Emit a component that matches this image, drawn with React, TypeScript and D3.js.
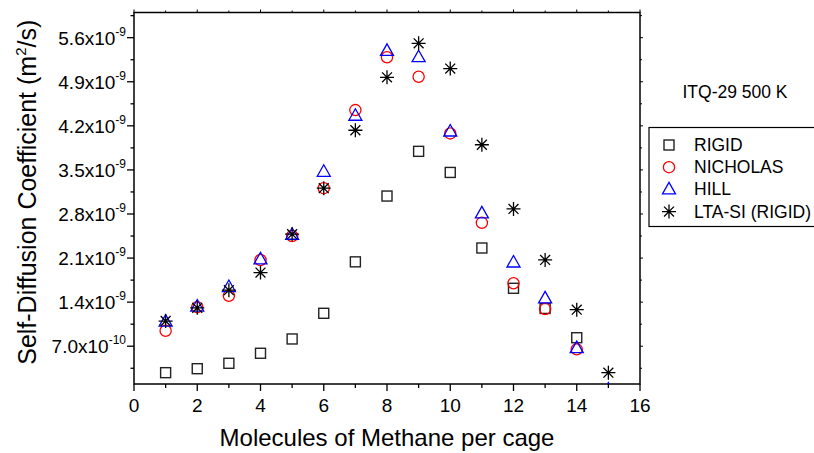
import React from "react";
import * as d3 from "d3";

const molecules = [1, 2, 3, 4, 5, 6, 7, 8, 9, 10, 11, 12, 13, 14, 15];
const rigid = [0.28e-9, 0.343e-9, 0.429e-9, 0.588e-9, 0.815e-9, 1.223e-9, 2.04e-9, 3.085e-9, 3.795e-9, 3.46e-9, 2.26e-9, 1.62e-9, 1.3e-9, 0.835e-9];
const nicholas = [0.946e-9, 1.32e-9, 1.5e-9, 2.07e-9, 2.45e-9, 3.21e-9, 4.45e-9, 5.29e-9, 4.98e-9, 4.08e-9, 2.66e-9, 1.7e-9, 1.29e-9, 0.65e-9];
const hill = [1.09e-9, 1.33e-9, 1.64e-9, 2.08e-9, 2.47e-9, 3.47e-9, 4.36e-9, 5.39e-9, 5.29e-9, 4.11e-9, 2.81e-9, 2.03e-9, 1.46e-9, 0.67e-9, 0.01e-9];
const ltaSi = [1.1e-9, 1.31e-9, 1.59e-9, 1.87e-9, 2.48e-9, 3.21e-9, 4.13e-9, 4.97e-9, 5.51e-9, 5.11e-9, 3.9e-9, 2.88e-9, 2.07e-9, 1.28e-9, 0.28e-9];

const seriesNames = ["RIGID", "NICHOLAS", "HILL", "LTA-SI (RIGID)"];
const xTickValues = [0, 2, 4, 6, 8, 10, 12, 14, 16];
const xMinorTicks = [1, 3, 5, 7, 9, 11, 13, 15];
const yTickValues = [7e-10, 1.4e-9, 2.1e-9, 2.8e-9, 3.5e-9, 4.2e-9, 4.9e-9, 5.6e-9];
const yMinorTicks = [3.5e-10, 1.05e-9, 1.75e-9, 2.45e-9, 3.15e-9, 3.85e-9, 4.55e-9, 5.25e-9, 5.95e-9];
const annotation = "ITQ-29 500 K";
const xTitle = "Molecules of Methane per cage";

const FONT = "Arial, 'Liberation Sans', sans-serif";

function fmt(v: number) {
  const exp = Math.floor(Math.log10(v) + 1e-9);
  const m = v / Math.pow(10, exp);
  return { m: m.toFixed(1), e: String(exp) };
}

function Marker({ kind, x, y }: { kind: string; x: number; y: number }) {
  if (kind === "RIGID")
    return <rect x={x - 5} y={y - 5} width={10} height={10} fill="none" stroke="#222" strokeWidth={1.4} />;
  if (kind === "NICHOLAS")
    return <circle cx={x} cy={y} r={5.6} fill="none" stroke="#ff0000" strokeWidth={1.3} />;
  if (kind === "HILL")
    return (
      <path
        d={`M${x},${y - 7}L${x + 6.5},${y + 4.5}L${x - 6.5},${y + 4.5}Z`}
        fill="none"
        stroke="#0000ff"
        strokeWidth={1.3}
      />
    );
  const r = 7;
  const d = r * 0.7071;
  return (
    <path
      d={`M${x},${y - r}V${y + r}M${x - r},${y}H${x + r}M${x - d},${y - d}L${x + d},${y + d}M${x - d},${y + d}L${x + d},${y - d}`}
      stroke="#000"
      strokeWidth={1.3}
      fill="none"
    />
  );
}

export default function App() {
  const x = d3.scaleLinear().domain([0, 16]).range([134, 640]);
  const y = d3.scaleLinear().domain([0.1e-9, 6e-9]).range([384, 12.5]);
  const [x0, x1] = x.range();
  const [y0, y1] = y.range();

  const data: [string, number[]][] = [
    [seriesNames[0], rigid],
    [seriesNames[1], nicholas],
    [seriesNames[2], hill],
    [seriesNames[3], ltaSi],
  ];

  return (
    <svg width={814} height={453} style={{ position: "absolute", left: 0, top: 0, background: "#fff" }} fontFamily={FONT}>
      <defs>
        <clipPath id="plotclip">
          <rect x={x0} y={y1} width={x1 - x0} height={y0 - y1} />
        </clipPath>
      </defs>
      <rect width={814} height={453} fill="#fff" />

      {/* frame */}
      <rect x={x0} y={y1} width={x1 - x0} height={y0 - y1} fill="none" stroke="#000" strokeWidth={1.5} />

      {/* x ticks */}
      {xTickValues.map((t) => (
        <g key={"xt" + t}>
          <line x1={x(t)} x2={x(t)} y1={y0} y2={y0 + 7} stroke="#000" strokeWidth={1.3} />
          <line x1={x(t)} x2={x(t)} y1={y1} y2={y1 - 3} stroke="#000" strokeWidth={1} />
          <text x={x(t)} y={y0 + 28} textAnchor="middle" fontSize={19} fill="#000">
            {t}
          </text>
        </g>
      ))}
      {xMinorTicks.map((t) => (
        <g key={"xm" + t}>
          <line x1={x(t)} x2={x(t)} y1={y0} y2={y0 + 4} stroke="#000" strokeWidth={1.3} />
          <line x1={x(t)} x2={x(t)} y1={y1} y2={y1 - 2} stroke="#000" strokeWidth={1} />
        </g>
      ))}

      {/* y ticks */}
      {yTickValues.map((t) => {
        const f = fmt(t);
        return (
          <g key={"yt" + t}>
            <line x1={x0} x2={x0 - 7} y1={y(t)} y2={y(t)} stroke="#000" strokeWidth={1.3} />
            <line x1={x1} x2={x1 + 3} y1={y(t)} y2={y(t)} stroke="#000" strokeWidth={1} />
            <text x={126} y={y(t) + 7} textAnchor="end" fontSize={19} fill="#000">
              {f.m + "x10"}
              <tspan dy={-9} fontSize={12}>
                {f.e}
              </tspan>
            </text>
          </g>
        );
      })}
      {yMinorTicks.map((t) => (
        <g key={"ym" + t}>
          <line x1={x0} x2={x0 - 3.5} y1={y(t)} y2={y(t)} stroke="#000" strokeWidth={1.3} />
          <line x1={x1} x2={x1 + 2} y1={y(t)} y2={y(t)} stroke="#000" strokeWidth={1} />
        </g>
      ))}

      {/* data */}
      <g clipPath="url(#plotclip)">
        {data.map(([name, vals]) => (
          <g key={name}>
            {vals.map((v, i) => (
              <Marker key={i} kind={name} x={x(molecules[i])} y={y(v)} />
            ))}
          </g>
        ))}
      </g>

      {/* axis titles */}
      <text x={(x0 + x1) / 2 + 0} y={446} textAnchor="middle" fontSize={24} fill="#000">
        {xTitle}
      </text>
      <text transform={`translate(36,${(y0 + y1) / 2 - 6}) rotate(-90)`} textAnchor="middle" fontSize={25} fill="#000">
        Self-Diffusion Coefficient (m
        <tspan dy={-10} fontSize={15}>
          2
        </tspan>
        <tspan dy={10}>/s)</tspan>
      </text>

      {/* annotation */}
      <text x={735} y={98} textAnchor="middle" fontSize={17.5} fill="#000">
        {annotation}
      </text>

      {/* legend */}
      <rect x={649} y={127.5} width={170} height={99} fill="#fff" stroke="#000" strokeWidth={1.2} />
      {seriesNames.map((n, i) => {
        const cy = 145 + i * 22.2;
        return (
          <g key={"lg" + n}>
            <Marker kind={n} x={669} y={cy} />
            <text x={694} y={cy + 6} fontSize={17.5} fill="#000">
              {n}
            </text>
          </g>
        );
      })}
    </svg>
  );
}
